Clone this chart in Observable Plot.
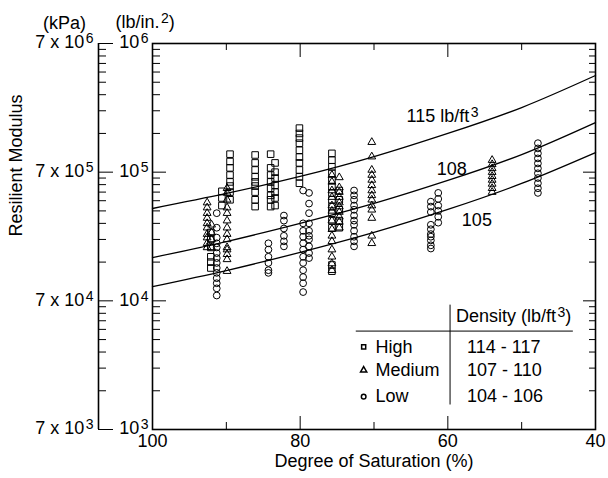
<!DOCTYPE html>
<html><head><meta charset="utf-8">
<script src="https://cdn.jsdelivr.net/npm/d3@7"></script>
<script src="https://cdn.jsdelivr.net/npm/@observablehq/plot@0.6"></script>
<style>body{margin:0;background:#fff}</style>
</head><body><div id="chart"></div>
<script>
// Degree of saturation (%) ticks
const saturationTicks = [100, 80, 60, 40];
const saturationMajor = [80, 60];
const saturationMinor = [90, 70, 50];
// Resilient modulus decades (psi)
const modulusDecades = [1e3, 1e4, 1e5, 1e6];

// Measured data: [degree of saturation, resilient modulus values in 1000 psi]
const highCols = [
  [92.1, [34, 30, 26, 22, 20, 18]],
  [90.6, [71, 63, 55]],
  [89.5, [138, 121, 108, 95, 84, 78, 70, 61]],
  [86.1, [136, 118, 104, 92, 84, 78, 70, 61, 54]],
  [84.0, [138, 108, 95, 84, 75, 66, 61, 54]],
  [83.4, [118, 100, 90, 79, 70, 63, 55]],
  [80.1, [220, 200, 184, 168, 148, 131, 118, 104, 92, 82]],
  [75.7, [140, 124, 110, 98, 87, 77, 69, 61, 54, 48, 42, 37, 19, 17]],
  [74.7, [72, 61, 51, 42, 37]]
];
const mediumCols = [
  [92.6, [58, 53, 48, 44, 40, 37, 33, 31, 28, 26]],
  [92.0, [39, 34, 30, 26]],
  [89.9, [75, 69, 61, 53, 48, 42, 37, 33, 30, 26, 25, 23, 21, 17]],
  [75.7, [95, 84, 72, 64, 55, 50, 42, 36, 32, 29, 25, 22, 19.5, 17.3]],
  [74.7, [91, 76, 70, 64, 58, 54, 49, 45, 41, 37]],
  [70.3, [171, 132, 104, 95, 87, 79, 72, 66, 61, 55, 51, 44, 32, 28]],
  [54.0, [124, 115, 107, 100, 93, 87, 81, 75, 70]]
];
const lowCols = [
  [91.3, [48, 37, 31, 28, 26, 23.5, 21.5, 19.7, 18, 16.5, 15, 13.7, 12.5, 11]],
  [84.3, [28, 25, 22, 19.7, 17.3, 16.5]],
  [82.2, [46, 42, 36.5, 32, 29, 26.5]],
  [79.6, [72, 40, 35, 31.5, 28, 25, 22, 19.7, 17.3, 15.3, 13.7, 11.7]],
  [78.8, [69, 57, 48, 40, 35, 32, 30, 26.5, 23.5, 21.5]],
  [72.7, [72, 66, 61, 55, 51, 46, 42, 39, 35, 31.5, 29, 26.5]],
  [62.3, [59, 54, 49, 39, 36, 33, 31.5, 29.5, 27, 25.5]],
  [61.3, [69, 62, 55, 50, 45, 40.5]],
  [47.8, [168, 153, 140, 128, 117, 107, 98, 90, 82, 75, 69]]
];

// Fitted curves (1000 psi) at given saturations
const curveS = [100, 90, 80, 70, 60, 50, 40];
const curve115 = [52.2, 68.3, 92.6, 132, 200, 318, 564];
const curve108 = [21.7, 28.9, 40.0, 57.1, 86.2, 137, 243];
const curve105 = [12.9, 17.2, 23.8, 34.0, 51.3, 81.7, 142];

// Legend table
const groupNames = ["High", "Medium", "Low"];
const groupSymbols = ["square", "triangle", "circle"];
const densityRanges = ["114 - 117", "107 - 110", "104 - 106"];

const flat = cols => cols.flatMap(([s, vs]) => vs.map(v => ({s, v: v * 1000})));
const high = flat(highCols), medium = flat(mediumCols), low = flat(lowCols);
const curves = [["115", curve115], ["108", curve108], ["105", curve105]]
  .flatMap(([k, arr]) => arr.map((v, i) => ({k, s: curveS[i], v: v * 1000})));

const minorTicks = modulusDecades.slice(0, 3).flatMap(d => d3.range(2, 10).map(k => k * d));

const W = 608, H = 478, mL = 152, mR = 13, mT = 43, mB = 49;
const FW = W - mL - mR, FH = H - mT - mB;
const font = "Liberation Sans, Arial, Helvetica, sans-serif";
const fs = 18;
const legendRowY = [4390, 2890, 1800];

const svg = Plot.plot({
  width: W, height: H,
  marginLeft: mL, marginRight: mR, marginTop: mT, marginBottom: mB,
  style: {fontFamily: font, fontSize: fs + "px", color: "black", background: "white"},
  x: {domain: [100, 40], axis: null},
  y: {type: "log", domain: [1e3, 1e6], axis: null},
  marks: [
    // psi axis (frame left) inward ticks
    Plot.tickY(minorTicks, {y: d => d, insetRight: FW - 8}),
    Plot.tickY(modulusDecades, {y: d => d, insetRight: FW - 14}),
    // right side inward ticks
    Plot.tickY(minorTicks, {y: d => d, insetLeft: FW - 6}),
    Plot.tickY(modulusDecades, {y: d => d, insetLeft: FW - 12}),
    // kPa axis
    Plot.ruleX([100], {y1: 1e3, y2: 1e6, dx: -54, strokeWidth: 1.6}),
    Plot.tickY(minorTicks, {y: d => d, insetRight: FW - 8, dx: -54}),
    Plot.tickY(modulusDecades, {y: d => d, insetRight: FW - 15, dx: -54}),
    // x ticks bottom & top
    Plot.tickX(saturationMajor, {x: d => d, insetTop: FH - 13}),
    Plot.tickX(saturationMinor, {x: d => d, insetTop: FH - 7}),
    Plot.tickX(saturationMajor, {x: d => d, insetBottom: FH - 14}),
    Plot.tickX(saturationMinor, {x: d => d, insetBottom: FH - 7}),
    Plot.frame({stroke: "black", strokeWidth: 1.6}),
    // curves
    Plot.line(curves, {x: "s", y: "v", z: "k", curve: "natural", stroke: "black", strokeWidth: 1.3}),
    // data
    Plot.dot(high, {x: "s", y: "v", symbol: "square", r: 3.7, stroke: "black", fill: "none", strokeWidth: 1}),
    Plot.dot(medium, {x: "s", y: "v", symbol: "triangle", r: 2.9, stroke: "black", fill: "none", strokeWidth: 1}),
    Plot.dot(low, {x: "s", y: "v", symbol: "circle", r: 3.4, stroke: "black", fill: "none", strokeWidth: 1}),
    // curve labels
    Plot.text(["115 lb/ft^3"], {x: 65.6, y: 272000, text: d => d, textAnchor: "start", fill: "black"}),
    Plot.text(["108"], {x: 61.5, y: 104600, text: d => d, textAnchor: "start", fill: "black"}),
    Plot.text(["105"], {x: 58.1, y: 42600, text: d => d, textAnchor: "start", fill: "black"}),
    // y tick labels (psi)
    Plot.text(modulusDecades, {y: d => d, text: d => "10^" + Math.round(Math.log10(d)), frameAnchor: "left", textAnchor: "end", dx: -4, dy: -1, fill: "black"}),
    // y tick labels (kPa)
    Plot.text(modulusDecades, {y: d => d, text: d => "7 x 10^" + Math.round(Math.log10(d)), frameAnchor: "left", textAnchor: "end", dx: -59, dy: -1, fill: "black"}),
    // unit headers
    Plot.text(["(kPa)"], {text: d => d, frameAnchor: "top-left", dx: -88, dy: -27, textAnchor: "middle", fill: "black"}),
    Plot.text(["(lb/in.^2)"], {text: d => d, frameAnchor: "top-left", dx: -37, dy: -28, textAnchor: "start", fill: "black"}),
    // x tick labels
    Plot.text(saturationTicks, {x: d => d, text: d => String(d), frameAnchor: "bottom", lineAnchor: "top", dy: 5, fill: "black"}),
    // axis titles
    Plot.text(["Degree of Saturation (%)"], {text: d => d, frameAnchor: "bottom", lineAnchor: "top", dy: 25, fill: "black"}),
    Plot.text(["Resilient Modulus"], {text: d => d, frameAnchor: "left", dx: -136, rotate: -90, fill: "black"}),
    // legend table
    Plot.ruleY([5820], {x1: 72.4, x2: 43, stroke: "black", strokeWidth: 1}),
    Plot.ruleX([59.7], {y1: 1550, y2: 9260, stroke: "black", strokeWidth: 1}),
    Plot.text(["Density (lb/ft^3)"], {x: 58.9, y: 7600, text: d => d, textAnchor: "start", fill: "black"}),
    Plot.dot(groupNames, {x: 71.4, y: (d, i) => legendRowY[i], symbol: (d, i) => groupSymbols[i], r: 2.3, stroke: "black", fill: "none"}),
    Plot.text(groupNames, {x: 69.8, y: (d, i) => legendRowY[i], text: d => d, textAnchor: "start", fill: "black"}),
    Plot.text(densityRanges, {x: 57.4, y: (d, i) => legendRowY[i], text: d => d, textAnchor: "start", fill: "black"})
  ]
});

// superscripts
const ns = "http://www.w3.org/2000/svg";
svg.querySelectorAll("text").forEach(t => {
  const s = t.textContent;
  const m = s.match(/^(.*)\^(\d)(.*)$/);
  if (!m) return;
  t.textContent = "";
  const a = document.createElementNS(ns, "tspan"); a.textContent = m[1]; t.appendChild(a);
  const b = document.createElementNS(ns, "tspan"); b.textContent = m[2];
  b.setAttribute("dy", "-5"); b.setAttribute("dx", "1.5"); b.setAttribute("font-size", "14"); t.appendChild(b);
  if (m[3]) { const c = document.createElementNS(ns, "tspan"); c.textContent = m[3]; c.setAttribute("dy", "5"); t.appendChild(c); }
});
document.getElementById("chart").appendChild(svg);
</script></body></html>
